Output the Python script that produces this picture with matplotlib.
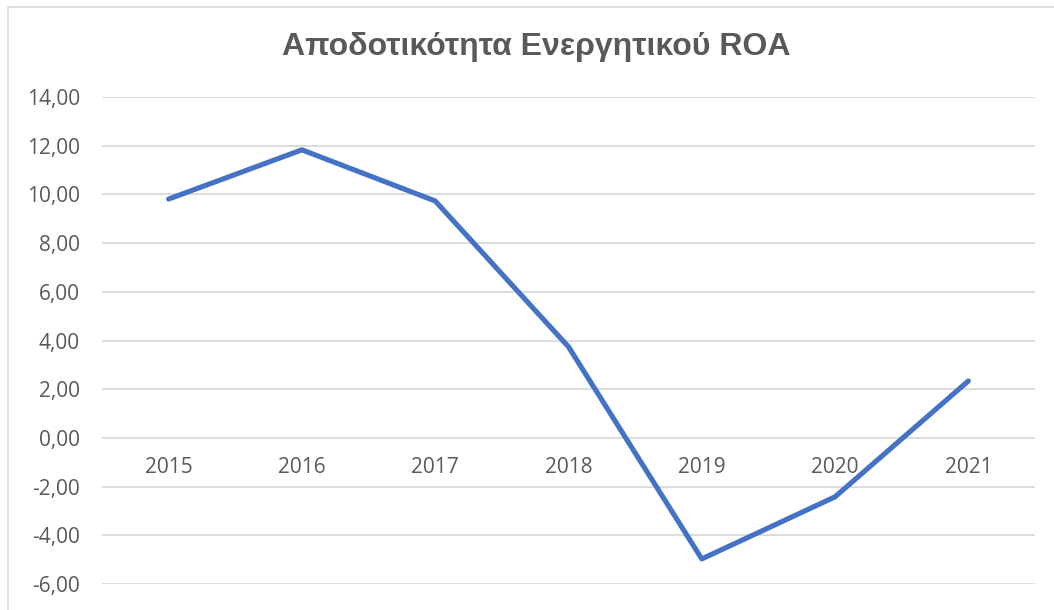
import matplotlib
matplotlib.use("Agg")
import matplotlib.pyplot as plt
from matplotlib.patches import Rectangle

years = ["2015", "2016", "2017", "2018", "2019", "2020", "2021"]
roa = [9.81, 11.83, 9.73, 3.74, -4.97, -2.42, 2.34]
yticks = [-6, -4, -2, 0, 2, 4, 6, 8, 10, 12, 14]
title = "Αποδοτικότητα Ενεργητικού ROA"

W, H = 1054, 610
fig = plt.figure(figsize=(W / 100, H / 100), dpi=100)
fig.patch.set_facecolor("white")

# chart border
fig.patches.append(Rectangle((8 / W, -0.05), 1.2, (H - 7) / H + 0.05,
                             transform=fig.transFigure, fill=False,
                             edgecolor="#D9D9D9", linewidth=1.2))

left, right = 102 / W, 1035 / W
bottom, top = 1 - 584 / H, 1 - 97 / H
ax = fig.add_axes([left, bottom, right - left, top - bottom])
x = list(range(len(years)))
ax.plot(x, roa, color="#4472C4", linewidth=3.7, solid_capstyle="round",
        solid_joinstyle="round", zorder=3)
ax.set_xlim(-0.5, len(years) - 0.5)
ax.set_ylim(-6, 14)
ax.set_yticks(yticks)
ax.set_yticklabels([f"{v:.2f}".replace(".", ",") for v in yticks],
                   fontfamily="Open Sans", fontsize=15, color="#595959")
ax.tick_params(axis="y", length=0, pad=16)
ax.set_xticks([])
for i, yr in enumerate(years):
    ax.annotate(yr, xy=(i, 0), xycoords="data", xytext=(0, -30),
                textcoords="offset pixels", ha="center", va="center",
                fontfamily="Open Sans", fontsize=15, color="#595959")
ax.grid(axis="y", color="#D9D9D9", linewidth=1.3)
ax.set_axisbelow(True)
for s in ax.spines.values():
    s.set_visible(False)

fig.text(536 / W, 1 - 47 / H, title, ha="center", va="center",
         fontfamily="Liberation Sans", fontweight="bold", fontsize=23,
         color="#595959")

fig.savefig("out.png", dpi=100)
